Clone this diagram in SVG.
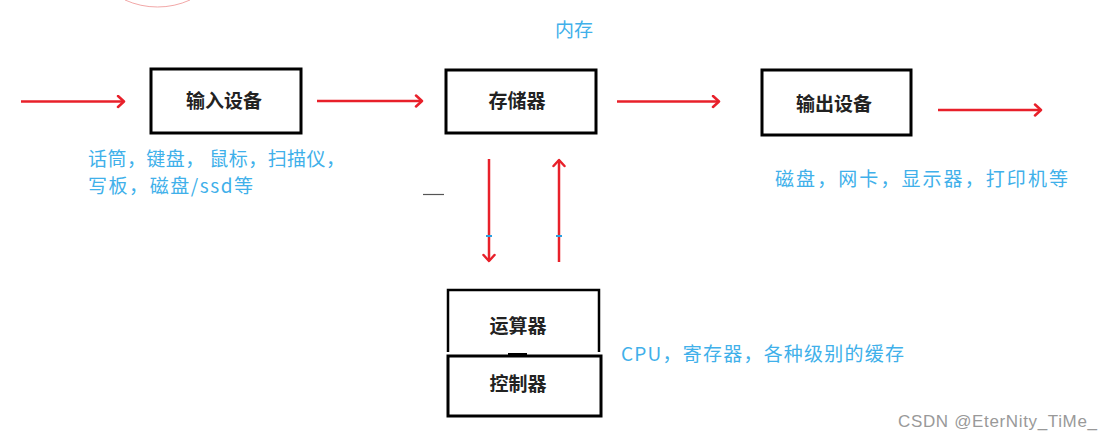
<svg xmlns="http://www.w3.org/2000/svg" width="1112" height="441" viewBox="0 0 1112 441">
<style>
.box{fill:#fff;stroke:#000;stroke-width:3}
.lbl{font-family:"Noto Sans CJK SC",sans-serif;font-size:19px;font-weight:bold;fill:#222;text-anchor:middle}
.note{font-family:"Noto Sans CJK SC",sans-serif;font-size:19px;fill:#40b0ea}
.arr{stroke:#e8202a;stroke-width:2.5;fill:none;marker-end:url(#ah)}
</style>
<defs>
<marker id="ah" markerUnits="userSpaceOnUse" markerWidth="14" markerHeight="14" refX="9" refY="7" orient="auto">
<polyline points="3,1.5 9,7 3,12.5" fill="none" stroke="#e8202a" stroke-width="2.5" stroke-linecap="round" stroke-linejoin="round"/>
</marker>
</defs>
<rect width="1112" height="441" fill="#fff"/>
<path d="M125,0 A79,79 0 0 0 190,0" fill="none" stroke="#f2a8a8" stroke-width="1"/>
<g id="connectors">
<line class="arr" x1="21" y1="101.5" x2="124" y2="101.5"/>
<line class="arr" x1="317" y1="101" x2="422" y2="101"/>
<line class="arr" x1="617" y1="101.5" x2="719" y2="101.5"/>
<line class="arr" x1="938" y1="110" x2="1041" y2="110"/>
<line class="arr" x1="489" y1="159" x2="489" y2="261"/>
<line class="arr" x1="559" y1="262" x2="559" y2="160"/>
<line x1="486" y1="236" x2="492" y2="236" stroke="#2aa0e0" stroke-width="2"/>
<line x1="556" y1="236" x2="562" y2="236" stroke="#2aa0e0" stroke-width="2"/>
</g>
<line x1="423" y1="194.5" x2="444" y2="194.5" stroke="#555" stroke-width="1.2"/>
<g id="input">
<rect class="box" x="151" y="69" width="150" height="64"/>
<text class="lbl" x="224" y="108">输入设备</text>
</g>
<g id="memory">
<rect class="box" x="446" y="70" width="150" height="63"/>
<text class="lbl" x="517" y="108">存储器</text>
</g>
<g id="output">
<rect class="box" x="762" y="70" width="149" height="65"/>
<text class="lbl" x="834" y="111">输出设备</text>
</g>
<g id="alu">
<path d="M448,352 V290 H599 V352" fill="none" stroke="#000" stroke-width="2.5"/>
<text class="lbl" x="518" y="333">运算器</text>
</g>
<line x1="508" y1="354" x2="527" y2="354" stroke="#000" stroke-width="2"/>
<g id="control">
<rect class="box" x="448" y="356" width="153" height="60"/>
<text class="lbl" x="518" y="391">控制器</text>
</g>
<text class="note" x="555" y="37">内存</text>
<text class="note" x="88" y="166" textLength="257" lengthAdjust="spacing">话筒，键盘， 鼠标，扫描仪，</text>
<text class="note" x="88" y="193" textLength="165" lengthAdjust="spacing">写板，磁盘/ssd等</text>
<text class="note" x="775" y="186" textLength="293" lengthAdjust="spacing">磁盘，网卡，显示器，打印机等</text>
<text class="note" x="621" y="361" textLength="283" lengthAdjust="spacing">CPU，寄存器，各种级别的缓存</text>
<text x="898" y="427" font-family="Liberation Sans, Arial, sans-serif" font-size="17" fill="#999" textLength="199" lengthAdjust="spacing">CSDN @EterNity_TiMe_</text>
</svg>
